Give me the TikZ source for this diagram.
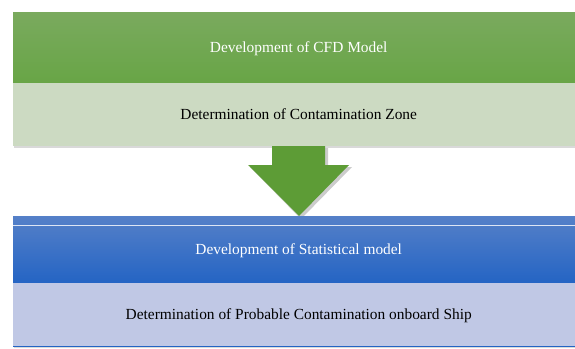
\documentclass[tikz,border=0pt]{standalone}
\usepackage{fontspec}
\setmainfont{Liberation Serif}
\usetikzlibrary{shadows}
\definecolor{greenTop}{HTML}{7AAA5E}
\definecolor{greenBot}{HTML}{68A546}
\definecolor{greenLight}{HTML}{CCDAC2}
\definecolor{blueTop}{HTML}{5580C8}
\definecolor{blueBot}{HTML}{2464C4}
\definecolor{blueLight}{HTML}{C0C8E5}
\definecolor{arrowGreen}{HTML}{5D9C36}
\tikzset{
  headbox/.style={draw=none, minimum width=571pt, inner sep=0pt, anchor=north west,
    text=white, font=\fontsize{15.4}{18}\selectfont, text depth=1pt},
  bodybox/.style={draw=none, minimum width=571pt, inner sep=0pt, anchor=north west,
    text=black, font=\fontsize{15.4}{18}\selectfont, text depth=1pt},
  softshadow/.style={drop shadow={shadow xshift=1.2pt, shadow yshift=-1.5pt, opacity=0.25, fill=black!60}},
}
\begin{document}
\begin{tikzpicture}[x=1pt,y=-1pt]
\useasboundingbox (0,0) rectangle (575,348);
% upper stage: CFD model
\node[headbox, minimum height=71pt, top color=greenTop, bottom color=greenBot, softshadow]
  (cfd) at (13,12) {Development of CFD Model};
\node[bodybox, minimum height=63pt, fill=greenLight, softshadow]
  (zone) at (13,83) {Determination of Contamination Zone};
% block arrow between the stages
\fill[black, opacity=0.2] (275,148) -- (328,148) -- (328,167) -- (352,167) -- (301,219) -- (250,167) -- (275,167) -- cycle;
\fill[arrowGreen] (272,146) coordinate (shaftL) -- (325,146) -- (325,165) -- (349,165)
  -- (299,216) coordinate (tip) -- (248,165) -- (272,165) -- cycle;
% lower stage: statistical model
\node[headbox, minimum height=67pt, top color=blueTop, bottom color=blueBot, softshadow]
  (stat) at (13,216) {Development of Statistical model};
\draw[white!80!blueTop, line width=0.6pt] (stat.north west) ++(0,9) -- ++(571,0);
\node[bodybox, minimum height=63pt, fill=blueLight, softshadow]
  (ship) at (13,283) {Determination of Probable Contamination onboard Ship};
\draw[blueBot, line width=1.2pt] (ship.south west) -- (ship.south east);
\end{tikzpicture}
\end{document}
